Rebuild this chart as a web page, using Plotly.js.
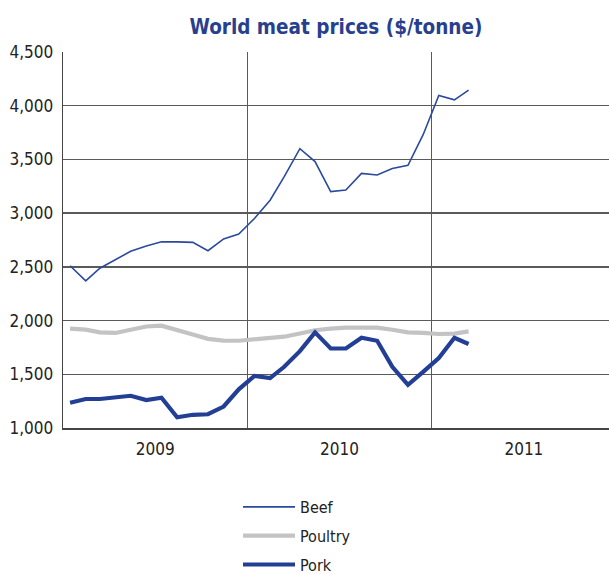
<!DOCTYPE html>
<html>
<head>
<meta charset="utf-8">
<script src="https://cdn.plot.ly/plotly-3.0.1.min.js"></script>
<style>html,body{margin:0;padding:0;background:#fff;}#chart{width:609px;height:574px;}</style>
</head>
<body>
<div id="chart"></div>
<script>
const months = [
  '2009-01-15','2009-02-15','2009-03-15','2009-04-15','2009-05-15','2009-06-15',
  '2009-07-15','2009-08-15','2009-09-15','2009-10-15','2009-11-15','2009-12-15',
  '2010-01-15','2010-02-15','2010-03-15','2010-04-15','2010-05-15','2010-06-15',
  '2010-07-15','2010-08-15','2010-09-15','2010-10-15','2010-11-15','2010-12-15',
  '2011-01-15','2011-02-15','2011-03-15'
];
const beef = [2510,2370,2487,2565,2645,2695,2733,2733,2728,2650,2760,2805,
              2950,3120,3340,3600,3480,3200,3215,3370,3355,3415,3445,3730,
              4095,4055,4145];
const poultry = [1925,1915,1890,1885,1915,1945,1952,1915,1870,1830,1814,1812,
                 1828,1835,1850,1880,1910,1925,1935,1935,1935,1915,1890,1885,
                 1875,1878,1900];
const pork = [1235,1270,1270,1282,1300,1260,1282,1100,1123,1128,1200,1360,
              1485,1465,1570,1715,1890,1740,1740,1840,1812,1570,1402,1522,
              1652,1840,1782];
const seriesNames = ['Beef','Poultry','Pork'];

const FONT = '"DejaVu Sans Condensed", "Liberation Sans Narrow", Arial, sans-serif';

const traces = [
  {x: months, y: beef, name: seriesNames[0], legendgroup: 'a', type: 'scatter', mode: 'lines',
   line: {color: '#2c4a9c', width: 1.6}},
  {x: months, y: poultry, name: seriesNames[1], legendgroup: 'b', type: 'scatter', mode: 'lines',
   line: {color: '#c3c3c6', width: 4.2}},
  {x: months, y: pork, name: seriesNames[2], legendgroup: 'c', type: 'scatter', mode: 'lines',
   line: {color: '#223f95', width: 4.2}}
];

const layout = {
  width: 609, height: 574,
  margin: {l: 63, r: 0, t: 52, b: 146},
  paper_bgcolor: '#ffffff', plot_bgcolor: '#ffffff',
  font: {family: FONT, color: '#222', size: 17},
  title: {
    text: 'World meat prices ($/tonne)',
    font: {family: FONT, size: 20.5, color: '#283f8e', weight: 'bold'},
    x: 0.5, xref: 'paper', xanchor: 'center',
    y: 1 - 27/574, yref: 'container', yanchor: 'middle'
  },
  xaxis: {
    type: 'date',
    range: ['2009-01-01', '2011-12-18'],
    tick0: '2009-01-01', dtick: 'M12',
    ticklabelmode: 'period', tickformat: '%Y',
    showgrid: true, gridcolor: '#5a5a5a', gridwidth: 1.3,
    showline: true, linecolor: '#444', linewidth: 1.6,
    ticks: '', ticklabelstandoff: 5,
    tickfont: {family: FONT, size: 17, color: '#222'},
    zeroline: false, fixedrange: true
  },
  yaxis: {
    range: [1000, 4500], tick0: 1000, dtick: 500,
    tickformat: ',d',
    showgrid: true, gridcolor: '#5a5a5a', gridwidth: 1.3,
    showline: true, linecolor: '#444', linewidth: 1.3,
    ticks: '', ticklabelstandoff: 5,
    tickfont: {family: FONT, size: 17, color: '#222'},
    zeroline: false, fixedrange: true
  },
  showlegend: true,
  legend: {
    orientation: 'v',
    x: (238 - 63) / 546, xanchor: 'left', xref: 'paper',
    y: 1 - 490/574, yanchor: 'top', yref: 'container',
    font: {family: FONT, size: 16, color: '#222'},
    bgcolor: 'rgba(0,0,0,0)', borderwidth: 0,
    itemwidth: 52, tracegroupgap: 5
  }
};

Plotly.newPlot('chart', traces, layout, {staticPlot: true, displayModeBar: false});
</script>
</body>
</html>
